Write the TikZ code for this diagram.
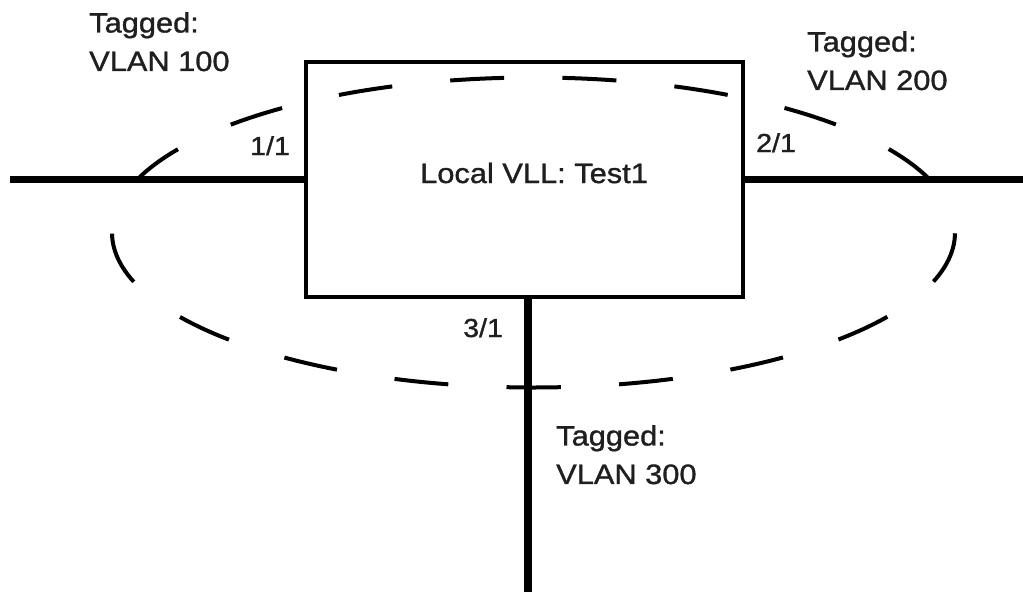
\documentclass[tikz,border=0pt]{standalone}
\usepackage{fontspec}
\setmainfont{Liberation Sans}[FakeStretch=1.1,FakeBold=1.2]
\begin{document}
\begin{tikzpicture}[x=1pt,y=-1pt,
  link/.style={line width=7.5pt},
  boxst/.style={draw,line width=4.5pt,minimum width=437pt,minimum height=235pt,inner sep=0pt},
  ring/.style={line width=4pt,dash pattern=on 54pt off 58.3pt,dash phase=27pt},
  tag/.style={anchor=north west,inner sep=0pt,align=left,text=black!88,font=\fontsize{28}{38.5}\selectfont},
  port/.style={anchor=base west,inner sep=0pt,text=black!88,font=\fontsize{26}{30}\selectfont},
  title/.style={anchor=base west,inner sep=0pt,text=black!88,font=\fontsize{28}{34}\selectfont}]
\useasboundingbox (0,0) rectangle (1023,592);
\node[boxst] (box) at (524.5,179.5) {};
\coordinate (w) at (10,179.5);
\coordinate (e) at (1023,179.5);
\coordinate (s) at (528,592);
\draw[link] (w) -- (box.west);
\draw[link] (box.east) -- (e);
\draw[link] (box.south -| s) -- (s);
\draw[ring] (533.5,387.5) arc[start angle=90, end angle=450, x radius=421.5, y radius=155];
\node[title] (lbl) at (420,183) {Local VLL: Test1};
\node[port] (p1) at (250,155) {1/1};
\node[port] (p2) at (756,152) {2/1};
\node[port] (p3) at (463,337) {3/1};
\node[tag] (t1) at (89,12) {Tagged:\\VLAN 100};
\node[tag] (t2) at (807,31) {Tagged:\\VLAN 200};
\node[tag] (t3) at (556,425) {Tagged:\\VLAN 300};
\end{tikzpicture}
\end{document}
